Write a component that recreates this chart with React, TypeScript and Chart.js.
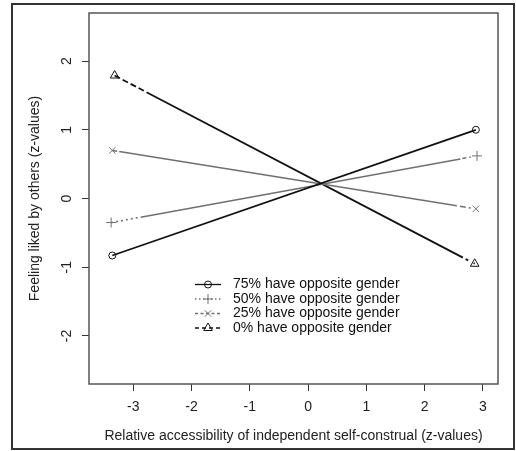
import React, { useEffect, useRef } from 'react';
import { Chart, registerables } from 'chart.js';
import { drawPoint } from 'chart.js/helpers';

Chart.register(...registerables);

// ---- data ----
const seriesLabels = [
  '75% have opposite gender',
  '50% have opposite gender',
  '25% have opposite gender',
  '0% have opposite gender',
];
const x75 = [-3.36, 2.88];
const y75 = [-0.83, 1.0];
const x50 = [-3.38, 2.9];
const y50 = [-0.35, 0.62];
const x25 = [-3.36, 2.88];
const y25 = [0.7, -0.15];
const x0 = [-3.32, 2.86];
const y0 = [1.79, -0.95];
const xTicks = [-3, -2, -1, 0, 1, 2, 3];
const yTicks = [-2, -1, 0, 1, 2];
const xTitle = 'Relative accessibility of independent self-construal (z-values)';
const yTitle = 'Feeling liked by others (z-values)';

const FONT = '"Liberation Sans", Arial, Helvetica, sans-serif';
const FS = 14;
const BLACK = '#111111';
const GRAY = '#707070';

const toPts = (xs: number[], ys: number[]) => xs.map((x, i) => ({ x, y: ys[i] }));

const styles = [
  { color: BLACK, width: 1.8, style: 'circle', radius: 3.5, dash: [] as number[], legendDash: [] as number[] },
  { color: GRAY, width: 1.5, style: 'cross', radius: 5, dash: [2, 3, 2, 3, 2, 3, 2, 3, 2, 3, 2, 3, 325, 2, 4, 3, 1.5, 6.5], legendDash: [1.5, 2.5] },
  { color: GRAY, width: 1.5, style: 'crossRot', radius: 4.5, dash: [5, 2, 342, 3, 6, 3, 2, 6], legendDash: [3, 2.5] },
  { color: BLACK, width: 1.8, style: 'triangle', radius: 5, dash: [6, 3, 6, 3, 6, 3, 6, 3, 357, 3, 3, 6], legendDash: [4, 3] },
];

const seriesData = [toPts(x75, y75), toPts(x50, y50), toPts(x25, y25), toPts(x0, y0)];

const decorPlugin = {
  id: 'decor',
  afterDraw(chart: any) {
    const { ctx, chartArea: a, scales } = chart;
    ctx.save();
    // plot box
    ctx.strokeStyle = '#555';
    ctx.lineWidth = 1.5;
    ctx.setLineDash([]);
    ctx.strokeRect(a.left, a.top, a.right - a.left, a.bottom - a.top);

    // y tick labels (rotated like R)
    ctx.fillStyle = '#222';
    ctx.font = `${FS}px ${FONT}`;
    ctx.textAlign = 'center';
    ctx.textBaseline = 'middle';
    yTicks.forEach((v) => {
      const y = scales.y.getPixelForValue(v);
      ctx.save();
      ctx.translate(67, y);
      ctx.rotate(-Math.PI / 2);
      ctx.fillText(String(v), 0, 0);
      ctx.restore();
    });

    // y title
    ctx.save();
    ctx.translate(35, (a.top + a.bottom) / 2);
    ctx.rotate(-Math.PI / 2);
    ctx.fillText(yTitle, 0, 0);
    ctx.restore();

    // x title
    ctx.fillText(xTitle, (a.left + a.right) / 2, 436);

    // legend
    const rowY = [284.5, 299, 313.5, 328];
    styles.forEach((s, i) => {
      const y = rowY[i];
      ctx.strokeStyle = s.color;
      ctx.lineWidth = 1.3;
      ctx.setLineDash(s.legendDash);
      ctx.beginPath();
      ctx.moveTo(195, y);
      ctx.lineTo(221, y);
      ctx.stroke();
      ctx.setLineDash([]);
      ctx.fillStyle = 'rgba(0,0,0,0)';
      ctx.lineWidth = 1;
      drawPoint(ctx, { pointStyle: s.style, rotation: 0, radius: s.radius, borderWidth: 1 } as any, 208, y);
      ctx.fillStyle = '#111';
      ctx.textAlign = 'left';
      ctx.fillText(seriesLabels[i], 233, y);
      ctx.textAlign = 'center';
    });

    // outer frame
    ctx.strokeStyle = '#333';
    ctx.lineWidth = 2;
    ctx.strokeRect(12, 4, 502, 445);
    ctx.restore();
  },
};

export default function App() {
  const ref = useRef<HTMLCanvasElement | null>(null);
  useEffect(() => {
    if (!ref.current) return;
    const chart = new Chart(ref.current, {
      type: 'scatter',
      data: {
        datasets: seriesData.map((d, i) => ({
          label: seriesLabels[i],
          data: d,
          showLine: true,
          borderColor: styles[i].color,
          borderWidth: styles[i].width,
          borderDash: styles[i].dash,
          pointStyle: styles[i].style as any,
          pointRadius: styles[i].radius,
          pointBorderWidth: 1,
          pointBorderColor: styles[i].color,
          pointBackgroundColor: 'rgba(0,0,0,0)',
          tension: 0,
        })),
      },
      options: {
        animation: false,
        responsive: false,
        layout: { padding: { top: 13, right: 18, left: 0, bottom: 0 } },
        plugins: { legend: { display: false }, tooltip: { enabled: false } },
        scales: {
          x: {
            type: 'linear',
            min: -3.76,
            max: 3.26,
            afterFit: (s: any) => { s.height = 67; },
            afterBuildTicks: (s: any) => { s.ticks = xTicks.map((v) => ({ value: v })); },
            border: { display: false },
            grid: { display: true, drawOnChartArea: false, drawTicks: true, tickLength: 7, color: '#333', lineWidth: 1 },
            ticks: { font: { family: FONT, size: FS }, color: '#222', padding: 8, maxRotation: 0, autoSkip: false },
          },
          y: {
            type: 'linear',
            min: -2.7,
            max: 2.7,
            afterFit: (s: any) => { s.width = 89; },
            afterBuildTicks: (s: any) => { s.ticks = yTicks.map((v) => ({ value: v })); },
            border: { display: false },
            grid: { display: true, drawOnChartArea: false, drawTicks: true, tickLength: 7, color: '#333', lineWidth: 1 },
            ticks: { font: { family: FONT, size: FS }, color: 'rgba(0,0,0,0)', padding: 4 },
          },
        },
      },
      plugins: [decorPlugin],
    });
    return () => chart.destroy();
  }, []);
  return (
    <div style={{ position: 'absolute', left: 0, top: 0, width: 516, height: 451, background: '#fff' }}>
      <canvas ref={ref} width={516} height={451} style={{ display: 'block' }} />
    </div>
  );
}
